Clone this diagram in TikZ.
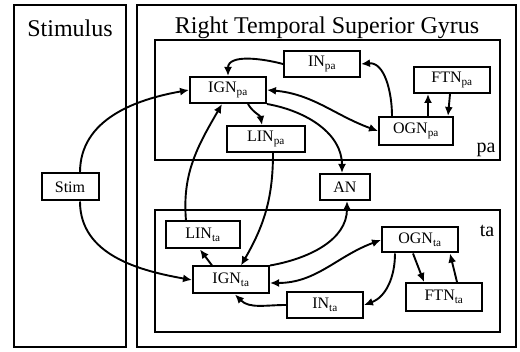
\documentclass[tikz,border=0pt]{standalone}
\usepackage{fontspec}
\setmainfont{Liberation Serif}
\usepackage{tikz}
\usetikzlibrary{arrows.meta, positioning}

\begin{document}
\begin{tikzpicture}[
				x=1pt, y=1pt,
				unit/.style={draw, line width=2pt, minimum width=76pt, minimum height=26pt, inner sep=1pt, font=\fontsize{16}{18}\selectfont},
				panel/.style={draw, line width=1.6pt},
				area/.style={draw, line width=1.4pt},
				link/.style={line width=1.9pt, -{Latex[length=9pt,width=8pt]}},
				dlink/.style={line width=1.9pt, {Latex[length=9pt,width=8pt]}-{Latex[length=9pt,width=8pt]}},
				title/.style={font=\fontsize{24}{26}\selectfont}
				]
				\useasboundingbox (0,0) rectangle (520,352);
				% panels
				\draw[panel] (14,5) rectangle (126,347);
				\draw[panel] (137,5) rectangle (516,347);
				\draw[area] (155,192) rectangle (500,312);
				\draw[area] (155,20) rectangle (500,142);
				\node[title] (stimtitle) at (70,324) {Stimulus};
				\node[title] (rtsg) at (327,324) {Right Temporal Superior Gyrus};
				\node[font=\fontsize{20}{22}\selectfont] (pa) at (486,202) {pa};
				\node[font=\fontsize{20}{22}\selectfont] (ta) at (487,121) {ta};

				% units
				\node[unit] (ignpa) at (228,262) {IGN\textsubscript{pa}};
				\node[unit] (inpa) at (322,288) {IN\textsubscript{pa}};
				\node[unit] (ftnpa) at (452,272) {FTN\textsubscript{pa}};
				\node[unit, minimum width=74pt, minimum height=28pt] (ognpa) at (416,221) {OGN\textsubscript{pa}};
				\node[unit, minimum width=78pt] (linpa) at (266,213) {LIN\textsubscript{pa}};
				\node[unit, minimum width=50pt] (an) at (345,165) {AN};
				\node[unit, minimum width=57pt, minimum height=27pt] (stim) at (70,165) {Stim};
				\node[unit, minimum width=74pt, minimum height=27pt] (linta) at (203,117) {LIN\textsubscript{ta}};
				\node[unit, minimum height=27pt] (ignta) at (231,72) {IGN\textsubscript{ta}};
				\node[unit, minimum height=25pt] (ognta) at (420,112) {OGN\textsubscript{ta}};
				\node[unit, minimum height=28pt] (ftnta) at (444,55) {FTN\textsubscript{ta}};
				\node[unit] (inta) at (325,47) {IN\textsubscript{ta}};

				% pa connections
				\draw[link] (inpa.west) to[out=165, in=90] (ignpa.north);
				\draw[link] ([xshift=-24pt]ognpa.north) to[out=90, in=5] (inpa.east);
				\draw[dlink] (ignpa.east) to[out=-5, in=160] (ognpa.west);
				\draw[link] ([xshift=12pt]ognpa.north) -- ([xshift=-24pt]ftnpa.south);
				\draw[link] ([xshift=-2pt]ftnpa.south) -- ([xshift=32pt]ognpa.north);
				\draw[link] ([xshift=20pt]ignpa.south) to[out=-60, in=100] ([xshift=-4pt]linpa.north);
				\draw[link] (ignpa.south east) to[out=-10, in=90] ([xshift=-3pt]an.north);

				% stimulus
				\draw[link] ([xshift=10pt]stim.north) to[out=90, in=190] (ignpa.west);
				\draw[link] ([xshift=10pt]stim.south) to[out=-90, in=170] (ignta.west);

				% between areas
				\draw[link] ([xshift=-17pt]linta.north) to[out=95, in=-120] ([xshift=-6pt]ignpa.south);
				\draw[link] ([xshift=7pt]linpa.south) to[out=-90, in=60] ([xshift=10pt]ignta.south |- ignta.north);
				\draw[link] (ignta.north east) to[out=10, in=-90] ([xshift=2pt]an.south);

				% ta connections
				\draw[link] ([xshift=-19pt]ignta.north) -- ([xshift=-3pt]linta.south);
				\draw[dlink] ([yshift=-3pt]ignta.east) to[out=0, in=200] (ognta.west);
				\draw[link] ([xshift=-25pt]ognta.south) to[out=-90, in=20] (inta.east);
				\draw[link] (inta.west) to[out=180, in=-45] ([xshift=4pt]ignta.south);
				\draw[link] ([xshift=-7pt]ognta.south) -- ([xshift=-20pt]ftnta.north);
				\draw[link] ([xshift=13pt]ftnta.north) -- ([xshift=30pt]ognta.south);
			\end{tikzpicture}
\end{document}
